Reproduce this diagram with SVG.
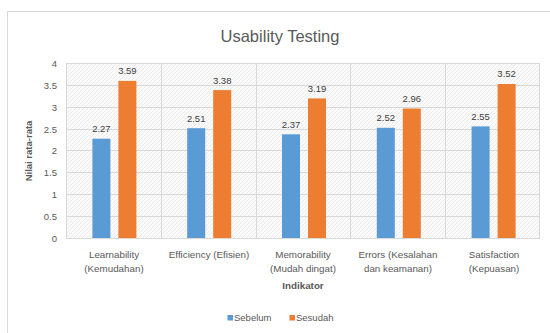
<svg xmlns="http://www.w3.org/2000/svg" width="550" height="333" viewBox="0 0 550 333">
<defs>
<pattern id="hatch" width="4" height="4" patternUnits="userSpaceOnUse">
<rect width="4" height="4" fill="#fafafa"/>
<path d="M0,4 L4,0" stroke="#e6e6e6" stroke-width="0.7"/>
</pattern>
</defs>
<style>
.t{font-family:"Liberation Sans",Arial,sans-serif;fill:#595959}
.ax{font-size:9.5px;text-anchor:end}
.cat{font-size:9.8px;text-anchor:middle}
.dl{font-size:9.5px;text-anchor:middle;fill:#404040}
.grid{stroke:#d9d9d9;stroke-width:1;fill:none}
.blue{fill:#5B9BD5}
.orange{fill:#ED7D31}
</style>
<rect x="0" y="0" width="550" height="333" fill="#ffffff"/>
<rect x="7.5" y="11.5" width="560" height="340" fill="#ffffff" stroke="#d9d9d9"/>
<text class="t" x="280" y="42" font-size="16.5" text-anchor="middle">Usability Testing</text>

<g id="plot">
<rect x="66" y="63" width="474" height="175" fill="url(#hatch)"/>
<g class="grid">
<path d="M66,63.5H540M66,85.5H540M66,107.5H540M66,129.5H540M66,150.5H540M66,172.5H540M66,194.5H540M66,216.5H540M66,238.5H540"/>
<path d="M66.5,63V238M161.5,63V238M256.5,63V238M350.5,63V238M445.5,63V238M539.5,63V238"/>
</g>
</g>

<g id="yaxis" class="t ax">
<text x="57" y="242">0</text>
<text x="57" y="220">0.5</text>
<text x="57" y="198">1</text>
<text x="57" y="176">1.5</text>
<text x="57" y="154">2</text>
<text x="57" y="133">2.5</text>
<text x="57" y="111">3</text>
<text x="57" y="89">3.5</text>
<text x="57" y="67">4</text>
</g>
<text class="t" transform="translate(32,151) rotate(-90)" font-size="9.5" font-weight="bold" text-anchor="middle">Nilai rata-rata</text>

<g id="sebelum" class="blue">
<rect x="92.4" y="138.7" width="18" height="99.3"/>
<rect x="187.2" y="128.2" width="18" height="109.8"/>
<rect x="282" y="134.3" width="18" height="103.7"/>
<rect x="376.8" y="127.8" width="18" height="110.2"/>
<rect x="471.6" y="126.4" width="18" height="111.6"/>
</g>
<g id="sesudah" class="orange">
<rect x="118.4" y="80.9" width="18" height="157.1"/>
<rect x="213.2" y="90.1" width="18" height="147.9"/>
<rect x="308" y="98.4" width="18" height="139.6"/>
<rect x="402.8" y="108.5" width="18" height="129.5"/>
<rect x="497.6" y="84" width="18" height="154"/>
</g>

<g id="datalabels" class="t dl">
<text x="101.4" y="132">2.27</text>
<text x="196.2" y="121.5">2.51</text>
<text x="291" y="127.5">2.37</text>
<text x="385.8" y="121">2.52</text>
<text x="480.6" y="119.5">2.55</text>
<text x="127.4" y="74">3.59</text>
<text x="222.2" y="83.5">3.38</text>
<text x="317" y="91.5">3.19</text>
<text x="411.8" y="101.5">2.96</text>
<text x="506.6" y="77">3.52</text>
</g>

<g id="categories" class="t cat">
<text x="114" y="258">Learnability</text>
<text x="114" y="272">(Kemudahan)</text>
<text x="209" y="258">Efficiency (Efisien)</text>
<text x="303" y="258">Memorability</text>
<text x="303" y="272">(Mudah dingat)</text>
<text x="398" y="258">Errors (Kesalahan</text>
<text x="398" y="272">dan keamanan)</text>
<text x="494" y="258">Satisfaction</text>
<text x="494" y="272">(Kepuasan)</text>
</g>
<text class="t" x="303" y="289" font-size="9.8" font-weight="bold" text-anchor="middle">Indikator</text>

<g id="legend">
<rect x="227.5" y="315" width="5.5" height="5.5" class="blue"/>
<text class="t" x="234" y="321" font-size="9.5">Sebelum</text>
<rect x="289.5" y="315" width="5.5" height="5.5" class="orange"/>
<text class="t" x="296" y="321" font-size="9.5">Sesudah</text>
</g>
</svg>
